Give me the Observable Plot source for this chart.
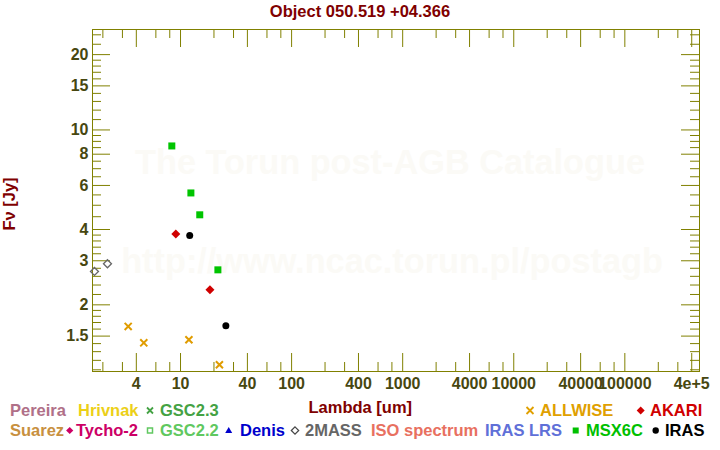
<!DOCTYPE html>
<html><head><meta charset="utf-8">
<script src="https://cdn.jsdelivr.net/npm/d3@7"></script>
<script src="https://cdn.jsdelivr.net/npm/@observablehq/plot@0.6"></script>
<style>
body{margin:0;background:#fff;}
#wrap{position:relative;width:720px;height:450px;overflow:hidden;}
#wrap svg{position:absolute;left:0;top:0;}
</style></head><body><div id="wrap"></div>
<script>
// ---------- data ----------
const title = "Object 050.519 +04.366";
const xLabel = "Lambda [um]";
const yLabel = "Fν [Jy]";
const watermark = ["The Torun post-AGB Catalogue", "http://www.ncac.torun.pl/postagb"];

const xMajorTicks = [4, 10, 40, 100, 400, 1000, 4000, 10000, 40000, 100000, 400000];
const xTickLabels = ["4", "10", "40", "100", "400", "1000", "4000", "10000", "40000", "100000", "4e+5"];
const xMinorTicks = [2, 3, 6, 8, 20, 30, 60, 80, 200, 300, 600, 800, 2000, 3000, 6000, 8000,
  20000, 30000, 60000, 80000, 200000, 300000];
const yMajorTicks = [1.5, 2, 3, 4, 6, 8, 10, 15, 20];
const yTickLabels = ["1.5", "2", "3", "4", "6", "8", "10", "15", "20"];
const yMinorTicks = [1.1, 1.2, 1.3, 1.4, 1.6, 1.7, 1.8, 1.9, 2.2, 2.4, 2.6, 2.8, 3.2, 3.4, 3.6, 3.8,
  4.5, 5, 5.5, 6.5, 7, 7.5, 8.5, 9, 9.5, 11, 12, 13, 14, 16, 17, 18, 19, 22, 24];

const twomassLambda = [1.68, 2.2];
const twomassFlux = [2.72, 2.92];
const allwiseLambda = [3.38, 4.67, 11.9, 22.4];
const allwiseFlux = [1.64, 1.41, 1.45, 1.152];
const msxLambda = [8.35, 12.4, 14.9, 21.7];
const msxFlux = [8.63, 5.6, 4.58, 2.76];
const akariLambda = [9.07, 18.4];
const akariFlux = [3.84, 2.30];
const irasLambda = [12.1, 25.6];
const irasFlux = [3.79, 1.65];

const legendRow1 = ["Pereira", "Hrivnak", "GSC2.3", "ALLWISE", "AKARI"];
const legendRow2 = ["Suarez", "Tycho-2", "GSC2.2", "Denis", "2MASS", "ISO spectrum", "IRAS LRS", "MSX6C", "IRAS"];

// ---------- styles ----------
const olive = "#808000";
const tickText = "#474710";
const labelRed = "#800000";
const wmColor = "#fbfaf6";
const font = "Liberation Sans, Arial, sans-serif";
const frameW = 720 - 92 - 21, frameH = 450 - 29 - 79;

const pts = (ls, fs) => ls.map((l, i) => ({lambda: l, flux: fs[i]}));
const inX = d => d >= 1.613 && d <= 4.7e5;

const plot = Plot.plot({
  width: 720, height: 450,
  marginTop: 29, marginBottom: 79, marginLeft: 92, marginRight: 21,
  style: {fontFamily: font, background: "white"},
  x: {type: "log", domain: [1.613, 4.7e5], axis: null},
  y: {type: "log", domain: [1.083, 25.2], axis: null},
  marks: [
    Plot.text(watermark.slice(0, 1), {frameAnchor: "top", text: d => d, dx: -6, dy: 120, lineAnchor: "top",
      fontSize: 34.3, fontWeight: "bold", fill: wmColor}),
    Plot.text(watermark.slice(1, 2), {frameAnchor: "top", text: d => d, dx: -4, dy: 219.5, lineAnchor: "top",
      fontSize: 34.3, fontWeight: "bold", fill: wmColor}),
    Plot.frame({stroke: olive}),
    Plot.tickX(xMajorTicks.filter(inX), {x: d => d, stroke: olive, insetTop: frameH - 18}),
    Plot.tickX(xMajorTicks.filter(inX), {x: d => d, stroke: olive, insetBottom: frameH - 18}),
    Plot.tickX(xMinorTicks.filter(inX), {x: d => d, stroke: olive, insetTop: frameH - 9}),
    Plot.tickX(xMinorTicks.filter(inX), {x: d => d, stroke: olive, insetBottom: frameH - 9}),
    Plot.tickY(yMajorTicks, {y: d => d, stroke: olive, insetRight: frameW - 18}),
    Plot.tickY(yMajorTicks, {y: d => d, stroke: olive, insetLeft: frameW - 18}),
    Plot.tickY(yMinorTicks, {y: d => d, stroke: olive, insetRight: frameW - 9}),
    Plot.tickY(yMinorTicks, {y: d => d, stroke: olive, insetLeft: frameW - 9}),
    Plot.text(xMajorTicks, {x: d => d, frameAnchor: "bottom", text: (d, i) => xTickLabels[i], dy: 6.5,
      lineAnchor: "top", textAnchor: "middle", fontSize: 16, fontWeight: "bold", fill: tickText}),
    Plot.text(yMajorTicks, {y: d => d, frameAnchor: "left", text: (d, i) => yTickLabels[i], dx: -4,
      lineAnchor: "middle", textAnchor: "end", fontSize: 16, fontWeight: "bold", fill: tickText}),
    Plot.dot(pts(twomassLambda, twomassFlux), {x: "lambda", y: "flux", symbol: "diamond2", r: 3.6,
      stroke: "#666666", strokeWidth: 1.3, fill: "none"}),
    Plot.dot(pts(allwiseLambda, allwiseFlux), {x: "lambda", y: "flux", symbol: "times", r: 3.3,
      stroke: "#e09c00", strokeWidth: 2, fill: "none"}),
    Plot.dot(pts(msxLambda, msxFlux), {x: "lambda", y: "flux", symbol: "square", r: 3.95,
      fill: "#00c400", stroke: "none"}),
    Plot.dot(pts(akariLambda, akariFlux), {x: "lambda", y: "flux", symbol: "diamond2", r: 4.05,
      fill: "#d00000", stroke: "none"}),
    Plot.dot(pts(irasLambda, irasFlux), {x: "lambda", y: "flux", symbol: "circle", r: 3.5,
      fill: "#000000", stroke: "none"})
  ]
});

const wrap = document.getElementById("wrap");
wrap.appendChild(plot);

// ---------- title, axis titles, legend ----------
const ov = d3.create("svg").attr("width", 720).attr("height", 450)
  .style("font-family", font).style("font-weight", "bold").style("pointer-events", "none");

ov.append("text").attr("x", 360).attr("y", 16.5).attr("text-anchor", "middle")
  .attr("font-size", 16.5).attr("fill", labelRed).text(title);
ov.append("text").attr("transform", "translate(14.5,204) rotate(-90)").attr("text-anchor", "middle")
  .attr("font-size", 16.5).attr("fill", labelRed).text(yLabel);
ov.append("text").attr("x", 360.3).attr("y", 413).attr("text-anchor", "middle")
  .attr("font-size", 16.5).attr("fill", labelRed).text(xLabel);

const legendStyle = {
  "Pereira": {color: "#b07088", x: 10},
  "Hrivnak": {color: "#ecd018", x: 78},
  "GSC2.3": {color: "#44a244", x: 160, sym: "times", sx: 150, sc: "#44a244", s: 3},
  "ALLWISE": {color: "#e0a000", x: 540, sym: "times", sx: 530, sc: "#e0a000", s: 3.5},
  "AKARI": {color: "#d00000", x: 650, sym: "diamond", sx: 640.7, sc: "#d00000", s: 4},
  "Suarez": {color: "#c89040", x: 10},
  "Tycho-2": {color: "#cc0066", x: 76, sym: "diamond", sx: 69.7, sc: "#cc0066", s: 3.6},
  "GSC2.2": {color: "#60c860", x: 160, sym: "osquare", sx: 150, sc: "#60c860", s: 2.5},
  "Denis": {color: "#0000cc", x: 240, sym: "triangle", sx: 228.7, sc: "#0000cc", s: 3.5},
  "2MASS": {color: "#666666", x: 305, sym: "odiamond", sx: 295, sc: "#444444", s: 3.7},
  "ISO spectrum": {color: "#e87060", x: 371},
  "IRAS LRS": {color: "#6070d8", x: 485},
  "MSX6C": {color: "#00c000", x: 586, sym: "square", sx: 575.7, sc: "#00c000", s: 3},
  "IRAS": {color: "#000000", x: 665, sym: "circle", sx: 655.7, sc: "#000000", s: 3.2}
};

function drawSym(g, sym, cx, cy, s, c) {
  if (sym === "times") g.append("path").attr("d", `M${cx-s},${cy-s}L${cx+s},${cy+s}M${cx-s},${cy+s}L${cx+s},${cy-s}`)
    .attr("stroke", c).attr("stroke-width", 1.8).attr("fill", "none");
  else if (sym === "diamond") g.append("path").attr("d", `M${cx},${cy-s}L${cx+s},${cy}L${cx},${cy+s}L${cx-s},${cy}Z`).attr("fill", c);
  else if (sym === "odiamond") g.append("path").attr("d", `M${cx},${cy-s}L${cx+s},${cy}L${cx},${cy+s}L${cx-s},${cy}Z`)
    .attr("fill", "none").attr("stroke", c).attr("stroke-width", 1.2);
  else if (sym === "osquare") g.append("rect").attr("x", cx - s).attr("y", cy - s).attr("width", 2 * s).attr("height", 2 * s)
    .attr("fill", "none").attr("stroke", c).attr("stroke-width", 1.5);
  else if (sym === "square") g.append("rect").attr("x", cx - s).attr("y", cy - s).attr("width", 2 * s).attr("height", 2 * s).attr("fill", c);
  else if (sym === "triangle") g.append("path").attr("d", `M${cx},${cy-s}L${cx+s},${cy+2.6}L${cx-s},${cy+2.6}Z`).attr("fill", c);
  else if (sym === "circle") g.append("circle").attr("cx", cx).attr("cy", cy).attr("r", s).attr("fill", c);
}

[[legendRow1, 416.3], [legendRow2, 436.3]].forEach(([row, base]) => {
  row.forEach(name => {
    const st = legendStyle[name];
    if (st.sym) drawSym(ov, st.sym, st.sx, base - 5.8, st.s, st.sc);
    ov.append("text").attr("x", st.x).attr("y", base).attr("font-size", 16.5).attr("fill", st.color).text(name);
  });
});

wrap.appendChild(ov.node());
</script></body></html>
